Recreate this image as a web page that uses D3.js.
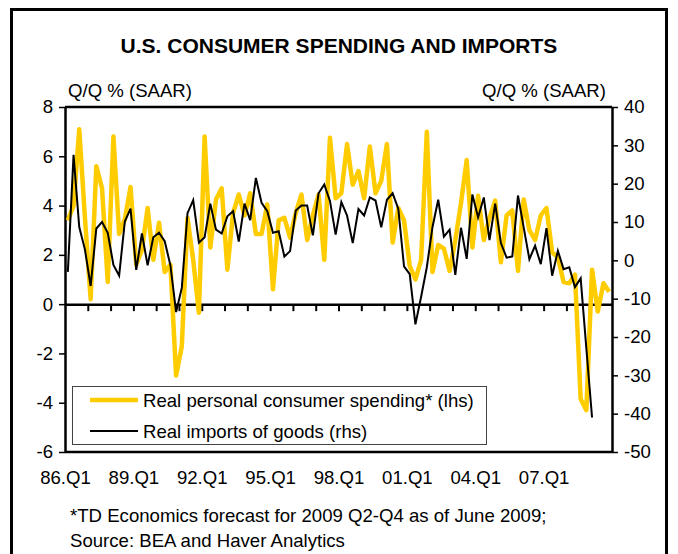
<!DOCTYPE html>
<html>
<head>
<meta charset="utf-8">
<script src="https://cdn.jsdelivr.net/npm/d3@7"></script>
<style>
  body { margin: 0; background: #fff; }
  svg { display: block; }
  text { font-family: Arial, "Liberation Sans", sans-serif; fill: #000; }
</style>
</head>
<body>
<svg id="chart" width="678" height="554"></svg>
<script>
// Quarterly growth, 86.Q1 .. 09.Q4 (spending) and 86.Q1 .. 09.Q1 (imports)
const spending = [
  3.4, 4.0, 7.1, 3.5, 0.2, 5.6, 4.7, 0.9, 6.8, 2.85, 3.45, 4.75,
  1.6, 2.2, 3.9, 1.8, 3.3, 1.3, 1.6, -2.9, -1.7, 3.5, 1.8, -0.35,
  6.8, 2.3, 4.25, 4.7, 1.4, 3.7, 4.45, 3.6, 4.5, 2.85, 2.85, 4.05,
  0.6, 3.4, 3.5, 2.7, 3.7, 4.45, 2.6, 3.6, 4.45, 1.8, 6.75, 4.3,
  4.5, 6.5, 4.85, 5.4, 4.3, 6.4, 4.5, 5.0, 6.5, 2.5, 3.9, 3.4,
  1.55, 1.0, 1.8, 7.0, 1.3, 2.4, 2.25, 1.35, 2.6, 4.1, 5.85, 2.3,
  4.4, 2.6, 3.5, 4.2, 1.7, 3.6, 3.8, 1.35, 4.25, 3.0, 2.6, 3.6,
  3.9, 2.1, 1.9, 0.9, 0.85, 1.2, -3.85, -4.3, 1.4, -0.3, 0.85, 0.5
];
const imports = [
  -3, 27.5, 8.7, 2.8, -6.7, 8.3, 10, 7.2, -1.2, -4, 10.1, 13.5,
  -2.5, 7, -1.3, 6, 7.2, 5, -1.3, -13.5, -7.2, 12.3, 15.7, 4.6,
  6, 14.8, 8, 7, 11.5, 12.8, 4.9, 14.8, 10.5, 21.5, 15, 12.8,
  7.2, 7.6, 1.0, 2.4, 13, 14.3, 14.3, 6.5, 17.5, 19.8, 15.5, 6.7,
  15.2, 11.7, 4.5, 13.4, 11.7, 16.4, 15.6, 8.6, 15.8, 17.5, 13.4, -1.6,
  -3.6, -16.7, -9.5, -1.8, 8.7, 15.8, 6.2, 8.0, -3.8, 8.5, 0.4, 17.2,
  11.2, 16.4, 5.3, 14.8, 4.5, 0.7, 1.0, 16.9, 8.6, 0.3, 3.8, -1.0,
  8.4, -4.0, 2.5, -2.3, -1.8, -7.0, -4.7, -23, -41
];
const xLabels = ['86.Q1', '89.Q1', '92.Q1', '95.Q1', '98.Q1', '01.Q1', '04.Q1', '07.Q1'];
const leftTicks = [-6, -4, -2, 0, 2, 4, 6, 8];
const rightTicks = [-50, -40, -30, -20, -10, 0, 10, 20, 30, 40];
const legendItems = ['Real personal consumer spending* (lhs)', 'Real imports of goods (rhs)'];

const svg = d3.select('#chart');
const L = 65, R = 612, T = 107, B = 452;
const gold = '#FFCC00';
const fs = '18.6px';

// outer frame
svg.append('rect')
  .attr('x', 11.5).attr('y', 9.5).attr('width', 655).attr('height', 570)
  .attr('fill', 'none').attr('stroke', '#000').attr('stroke-width', 3);

svg.append('text')
  .attr('x', 339).attr('y', 53)
  .attr('text-anchor', 'middle')
  .style('font-size', '21px').style('font-weight', 'bold')
  .text('U.S. CONSUMER SPENDING AND IMPORTS');

svg.append('text').attr('x', 68).attr('y', 97).style('font-size', fs).text('Q/Q % (SAAR)');
svg.append('text').attr('x', 606).attr('y', 97).attr('text-anchor', 'end').style('font-size', fs).text('Q/Q % (SAAR)');

// scales: quarter index -> x (bands of one quarter)
const xq = d3.scaleLinear().domain([0, 96]).range([L, R]);
const yL = d3.scaleLinear().domain([-6, 8]).range([B, T]);
const yR = d3.scaleLinear().domain([-50, 40]).range([B, T]);

// top / bottom frame of plot
svg.append('line').attr('x1', L).attr('x2', R).attr('y1', T).attr('y2', T)
  .attr('stroke', '#000').attr('stroke-width', 2.5);
svg.append('line').attr('x1', L).attr('x2', R).attr('y1', B).attr('y2', B)
  .attr('stroke', '#000').attr('stroke-width', 2.5);

// left axis
const gl = svg.append('g').attr('transform', `translate(${L},0)`)
  .call(d3.axisLeft(yL).tickValues(leftTicks).tickSize(6).tickSizeOuter(0).tickPadding(6).tickFormat(d => String(d)));
// right axis
const gr = svg.append('g').attr('transform', `translate(${R},0)`)
  .call(d3.axisRight(yR).tickValues(rightTicks).tickSize(6).tickSizeOuter(0).tickPadding(6).tickFormat(d => String(d)));
[gl, gr].forEach(g => {
  g.select('.domain').attr('stroke-width', 2.5);
  g.selectAll('.tick line').attr('stroke-width', 1.5);
  g.selectAll('text').style('font-size', fs);
});

// zero line with yearly ticks
const gz = svg.append('g').attr('transform', `translate(0,${yL(0)})`)
  .call(d3.axisBottom(xq).tickValues(d3.range(4, 96, 4)).tickSize(7).tickSizeOuter(0).tickFormat(''));
gz.select('.domain').attr('stroke-width', 2.5);
gz.selectAll('.tick line').attr('stroke-width', 2);

// category labels
const gx = svg.append('g').attr('transform', `translate(0,${B})`)
  .call(d3.axisBottom(xq).tickValues(d3.range(0, 96, 12)).tickSize(0).tickPadding(19)
    .tickFormat(d => xLabels[d / 12]));
gx.select('.domain').remove();
gx.selectAll('text').style('font-size', fs);

const cx = i => xq(i + 0.5);

svg.append('path')
  .datum(spending)
  .attr('fill', 'none').attr('stroke', gold).attr('stroke-width', 4.5)
  .attr('stroke-linejoin', 'round')
  .attr('d', d3.line().x((d, i) => cx(i)).y(d => yL(d)));

svg.append('path')
  .datum(imports)
  .attr('fill', 'none').attr('stroke', '#000').attr('stroke-width', 2)
  .attr('d', d3.line().x((d, i) => cx(i)).y(d => yR(d)));

// legend
const lg = svg.append('g');
lg.append('rect')
  .attr('x', 72.5).attr('y', 386.5).attr('width', 414).attr('height', 58)
  .attr('fill', '#fff').attr('stroke', '#444').attr('stroke-width', 1);
legendItems.forEach((t, k) => {
  const y = 400 + k * 31;
  lg.append('line').attr('x1', 90).attr('x2', 138).attr('y1', y).attr('y2', y)
    .attr('stroke', k === 0 ? gold : '#000').attr('stroke-width', k === 0 ? 4.5 : 2);
  lg.append('text').attr('x', 143).attr('y', y + 6.5).style('font-size', fs).text(t);
});

// footnote
svg.append('text').attr('x', 70).attr('y', 522).style('font-size', fs)
  .text('*TD Economics forecast for 2009 Q2-Q4 as of June 2009;');
svg.append('text').attr('x', 70).attr('y', 547).style('font-size', fs)
  .text('Source: BEA and Haver Analytics');
</script>
</body>
</html>
